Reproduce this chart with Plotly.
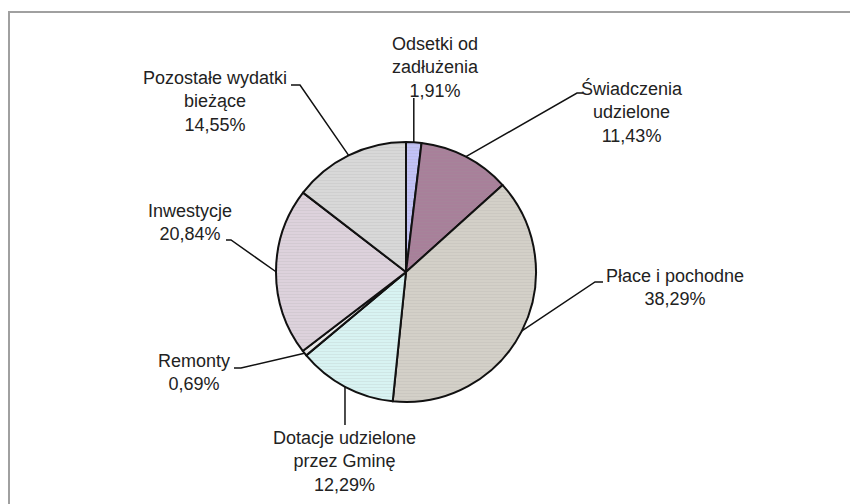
import math
import plotly.graph_objects as go

# ---- data ----
categories = ["Odsetki od zadłużenia", "Świadczenia udzielone", "Płace i pochodne",
              "Dotacje udzielone przez Gminę", "Remonty", "Inwestycje",
              "Pozostałe wydatki bieżące"]
label_text = ["Odsetki od<br>zadłużenia", "Świadczenia<br>udzielone", "Płace i pochodne",
              "Dotacje udzielone<br>przez Gminę", "Remonty", "Inwestycje",
              "Pozostałe wydatki<br>bieżące"]
values = [1.91, 11.43, 38.29, 12.29, 0.69, 20.84, 14.55]
colors = ["#c2c2f6", "#a8809a", "#d3d0c8", "#d8f3f2", "#ececec", "#ddd2dc", "#d8d8d8"]

# ---- layout constants (pixels in the window) ----
W, H = 858, 504
OFF = 8  # page body margin
CX, CY, R = 406, 272, 130
FONT = dict(family="Liberation Sans, Arial, sans-serif", size=18, color="#222222")

label_pos = [(435, 67), (632, 112), (675, 287), (344, 461), (194, 372), (190, 222), (215, 101)]
leader_pts = [
    [(None, 98)],
    [(577, 93), (583, 93)],
    [(595, 282), (603, 282)],
    [(None, 425)],
    [(241, 368), (234, 368)],
    [(231, 240), (226, 240)],
    [(300, 85), (291, 85)],
]


def px(x):
    return (x - OFF) / W


def py(y):
    return 1 - (y - OFF) / H


fig = go.Figure()
fig.add_trace(go.Pie(
    labels=categories, values=values, sort=False, direction="clockwise", rotation=0,
    marker=dict(colors=colors, line=dict(color="#111111", width=2),
                pattern=dict(shape="-", size=3, solidity=0.2, bgcolor=colors,
                             fgcolor="#9a9a9a", fgopacity=0.25)),
    textinfo="none", hoverinfo="label+percent", showlegend=False,
    domain=dict(x=[px(CX - R), px(CX + R)], y=[py(CY + R), py(CY - R)]),
))

shapes = []
shapes.append(dict(type="rect", xref="paper", yref="paper",
                   x0=px(9), y0=py(12), x1=px(W + 30), y1=py(H + 30),
                   line=dict(color="#a0a0a0", width=2), fillcolor="rgba(0,0,0,0)"))

total = sum(values)
cum = 0.0
annotations = []
for i, v in enumerate(values):
    mid = (cum + v / 2) / total
    cum += v
    ang = 2 * math.pi * mid
    ex, ey = CX + R * math.sin(ang), CY - R * math.cos(ang)
    pts = [(ex, ey)]
    for (x, y) in leader_pts[i]:
        pts.append((ex if x is None else x, y))
    path = "M " + " L ".join(f"{px(x):.5f},{py(y):.5f}" for x, y in pts)
    shapes.append(dict(type="path", xref="paper", yref="paper", path=path,
                       line=dict(color="#111111", width=1.5)))
    pct = f"{v:.2f}".replace(".", ",") + "%"
    lx, ly = label_pos[i]
    annotations.append(dict(xref="paper", yref="paper", x=px(lx), y=py(ly),
                            xanchor="center", yanchor="middle", align="center",
                            showarrow=False, text=f"{label_text[i]}<br>{pct}", font=FONT))

fig.update_layout(
    width=W, height=H, margin=dict(l=0, r=0, t=0, b=0),
    paper_bgcolor="white", plot_bgcolor="white",
    shapes=shapes, annotations=annotations,
)
fig.write_html("out.html")
